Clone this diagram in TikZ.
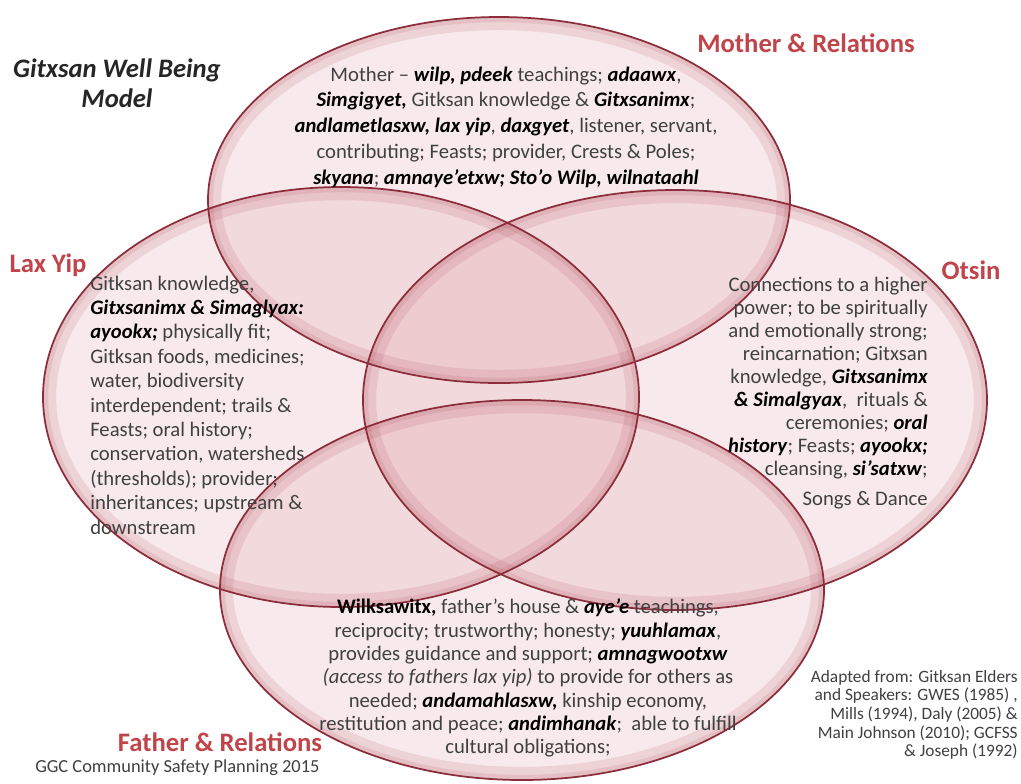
\documentclass[tikz,border=0pt]{standalone}
\usepackage{fontspec}
\setmainfont{Carlito}
\usepackage{xcolor}
\usepackage{tikz}
\definecolor{rose}{HTML}{D98C96}
\definecolor{wine}{HTML}{8C2D3B}
\definecolor{blush}{HTML}{B4505E}
\definecolor{ink}{HTML}{404040}
\definecolor{head}{HTML}{C0444A}
\tikzset{
  petal/.style={fill=rose, fill opacity=0.18},
  glow/.style={draw=blush, draw opacity=0.15},
  rim/.style={draw=wine, line width=1.3pt},
  body/.style={text=ink, inner sep=0pt, font=\fontsize{15.5}{19.3}\selectfont},
  tag/.style={text=head, inner sep=0pt, font=\fontsize{20}{24}\selectfont\bfseries},
  note/.style={text=ink, inner sep=0pt, font=\fontsize{13}{14}\selectfont},
}
\newcommand{\gx}[1]{\textcolor{black}{\textbf{\textit{#1}}}}

\begin{document}
\begin{tikzpicture}[x=0.75pt, y=-0.75pt]
  \useasboundingbox (0,0) rectangle (1021,783);
  \fill[white] (0,0) rectangle (1021,783);
  \coordinate (mc) at (499,200);
  \coordinate (lc) at (341,397);
  \coordinate (oc) at (675,400);
  \coordinate (fc) at (522,590);

  % the four circles of the model
  \fill[petal] (mc) ellipse [x radius=291, y radius=183];
  \fill[petal] (lc) ellipse [x radius=298, y radius=210];
  \fill[petal] (oc) ellipse [x radius=312, y radius=210];
  \fill[petal] (fc) ellipse [x radius=302, y radius=190];
  \draw[glow, line width=10pt] (mc) ellipse [x radius=284.5, y radius=176.5];
  \draw[glow, line width=10pt] (lc) ellipse [x radius=291.5, y radius=203.5];
  \draw[glow, line width=10pt] (oc) ellipse [x radius=305.5, y radius=203.5];
  \draw[glow, line width=10pt] (fc) ellipse [x radius=295.5, y radius=183.5];
  \draw[glow, line width=4pt] (mc) ellipse [x radius=288.5, y radius=180.5];
  \draw[glow, line width=4pt] (lc) ellipse [x radius=295.5, y radius=207.5];
  \draw[glow, line width=4pt] (oc) ellipse [x radius=309.5, y radius=207.5];
  \draw[glow, line width=4pt] (fc) ellipse [x radius=299.5, y radius=187.5];
  \draw[rim] (mc) ellipse [x radius=291, y radius=183];
  \draw[rim] (lc) ellipse [x radius=298, y radius=210];
  \draw[rim] (oc) ellipse [x radius=312, y radius=210];
  \draw[rim] (fc) ellipse [x radius=302, y radius=190];

  \node[text=black!85, align=center, inner sep=0pt, font=\fontsize{20}{22.5}\selectfont\bfseries\itshape]
    (title) at (117,83) {Gitxsan Well Being\\Model};

  \node[tag] (mtag) at (806,43) {Mother \& Relations};
  \node[tag] (ltag) at (48,265) {Lax Yip};
  \node[tag] (otag) at (971,270) {Otsin};
  \node[tag] (ftag) at (220,742) {Father \& Relations};

  \node[body, align=center] (mtext) at (506,127) {%
    Mother -- \gx{wilp, pdeek} teachings; \gx{adaawx},\\
    \gx{Simgigyet,} Gitksan knowledge \& \gx{Gitxsanimx};\\
    \gx{andlametlasxw, lax yip}, \gx{daxgyet}, listener, servant,\\
    contributing; Feasts; provider, Crests \& Poles;\\
    \gx{skyana}; \gx{amnaye'etxw; Sto'o Wilp, wilnataahl}};

  \node[body, align=left, anchor=west, font=\fontsize{15.5}{18.3}\selectfont] (ltext) at (90,405) {%
    Gitksan knowledge,\\
    \gx{Gitxsanimx \& Simaglyax:}\\
    \gx{ayookx;} physically fit;\\
    Gitksan foods, medicines;\\
    water, biodiversity\\
    interdependent; trails \&\\
    Feasts; oral history;\\
    conservation, watersheds\\
    (thresholds); provider;\\
    inheritances; upstream \&\\
    downstream};

  \node[body, align=right, anchor=east, font=\fontsize{15.5}{17.3}\selectfont] (otext) at (928,393) {%
    Connections to a higher\\
    power; to be spiritually\\
    and emotionally strong;\\
    reincarnation; Gitxsan\\
    knowledge, \gx{Gitxsanimx}\\
    \gx{\& Simalgyax},~ rituals \&\\
    ceremonies; \gx{oral}\\
    \gx{history}; Feasts; \gx{ayookx;}\\
    cleansing, \gx{si'satxw};\\[5pt]
    Songs \& Dance};

  \node[body, align=center, font=\fontsize{15.5}{17.5}\selectfont] (ftext) at (528,678) {%
    \textcolor{black}{\textbf{Wilksawitx,}} father's house \& \gx{aye'e} teachings,\\
    reciprocity; trustworthy; honesty; \gx{yuuhlamax},\\
    provides guidance and support; \gx{amnagwootxw}\\
    \textit{(access to fathers lax yip)} to provide for others as\\
    needed; \gx{andamahlasxw,} kinship economy,\\
    restitution and peace; \gx{andimhanak};~ able to fulfill\\
    cultural obligations;};

  \node[note, align=right, anchor=east] (source) at (1018,715) {%
    Adapted from: Gitksan Elders\\
    and Speakers: GWES (1985) ,\\
    Mills (1994), Daly (2005) \&\\
    Main Johnson (2010); GCFSS\\
    \& Joseph (1992)};

  \node[note, anchor=west, font=\fontsize{13.8}{15}\selectfont] (footer) at (35,768) {GGC Community Safety Planning 2015};
\end{tikzpicture}
\end{document}
